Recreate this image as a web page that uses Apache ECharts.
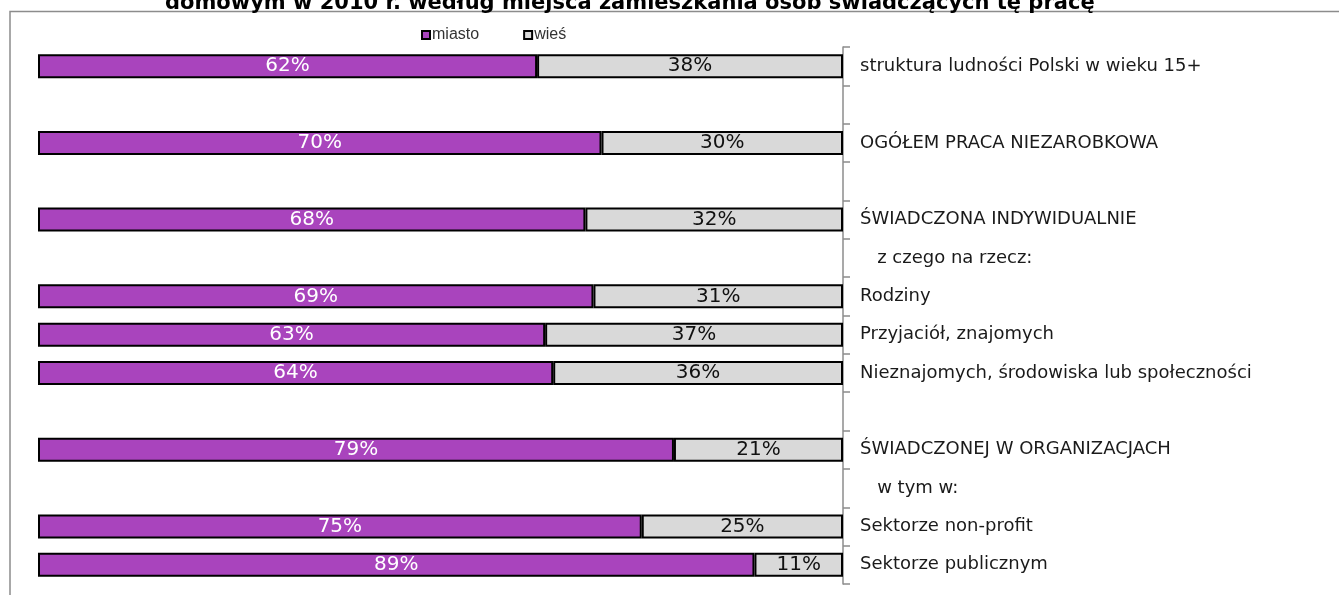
<!DOCTYPE html>
<html>
<head>
<meta charset="utf-8">
<script src="https://cdn.jsdelivr.net/npm/echarts@6/dist/echarts.min.js"></script>
<style>
  html, body { margin: 0; padding: 0; background: #fff; }
  #chart { width: 1339px; height: 595px; }
</style>
</head>
<body>
<div id="chart"></div>
<script>
// kategorie (puste wiersze = odstępy w oryginale)
const categories = [
  'struktura ludności Polski w wieku 15+',
  '',
  'OGÓŁEM PRACA NIEZAROBKOWA',
  ' ',
  'ŚWIADCZONA INDYWIDUALNIE',
  '   z czego na rzecz:',
  'Rodziny',
  'Przyjaciół, znajomych',
  'Nieznajomych, środowiska lub społeczności',
  '  ',
  'ŚWIADCZONEJ W ORGANIZACJACH',
  '   w tym w:',
  'Sektorze non-profit',
  'Sektorze publicznym'
]
const miasto = [62, '-', 70, '-', 68, '-', 69, 63, 64, '-', 79, '-', 75, 89]
const wies = [38, '-', 30, '-', 32, '-', 31, 37, 36, '-', 21, '-', 25, 11]

const chart = echarts.init(document.getElementById('chart'))

const option = {
  animation: false,
  title: {
    text: 'domowym w 2010 r. według miejsca zamieszkania osób świadczących tę pracę',
    left: 165,
    top: -7,
    padding: 0,
    textStyle: {
      fontFamily: 'DejaVu Sans',
      fontWeight: 'bold',
      fontSize: 21,
      color: '#000'
    }
  },
  graphic: [
    {
      type: 'polyline',
      z: -1,
      shape: { points: [[10, 595], [10, 11.5], [1339, 11.5]] },
      style: { stroke: '#8c8c8c', lineWidth: 1.5, fill: null },
      silent: true
    }
  ],
  legend: {
    top: 22,
    left: 416,
    itemWidth: 8,
    itemHeight: 8,
    itemGap: 44,
    icon: 'rect',
    textStyle: {
      fontFamily: 'Liberation Sans',
      fontSize: 16,
      color: '#333',
      padding: [0, 0, 0, -3]
    },
    data: ['miasto', 'wieś']
  },
  grid: {
    left: 38,
    right: 496,
    top: 47,
    bottom: 11
  },
  xAxis: {
    type: 'value',
    min: 0,
    max: 100,
    show: false
  },
  yAxis: {
    type: 'category',
    data: categories,
    inverse: true,
    position: 'right',
    axisLine: { show: true, onZero: false, lineStyle: { color: '#8c8c8c', width: 1.5 } },
    axisTick: { show: true, length: 7, lineStyle: { color: '#8c8c8c', width: 1.5 } },
    axisLabel: {
      margin: 17,
      fontFamily: 'DejaVu Sans',
      fontSize: 18,
      color: '#1a1a1a'
    }
  },
  series: [
    {
      name: 'miasto',
      type: 'bar',
      stack: 'total',
      barWidth: 24,
      data: miasto,
      itemStyle: { color: '#a944bd', borderColor: '#000', borderWidth: 2 },
      label: {
        show: true,
        position: 'inside',
        formatter: '{c}%',
        color: '#fff',
        fontFamily: 'DejaVu Sans',
        fontSize: 20
      }
    },
    {
      name: 'wieś',
      type: 'bar',
      stack: 'total',
      barWidth: 24,
      data: wies,
      itemStyle: { color: '#d9d9d9', borderColor: '#000', borderWidth: 2 },
      label: {
        show: true,
        position: 'inside',
        formatter: '{c}%',
        color: '#111',
        fontFamily: 'DejaVu Sans',
        fontSize: 20
      }
    }
  ]
}

chart.setOption(option)
</script>
</body>
</html>
